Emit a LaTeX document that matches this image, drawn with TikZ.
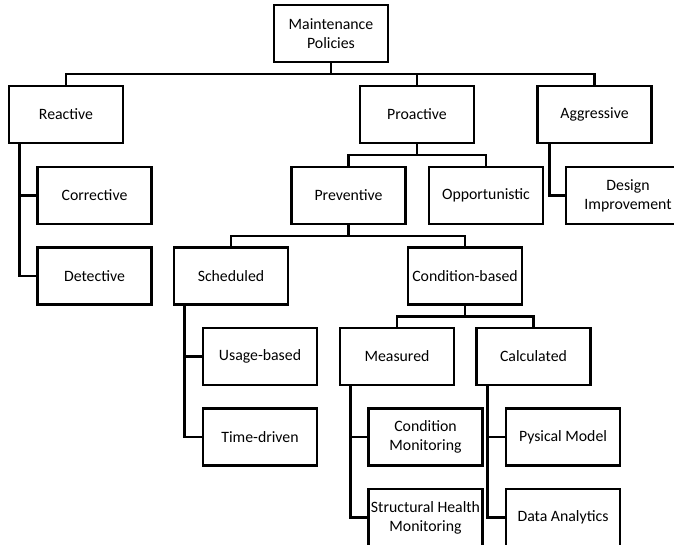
\documentclass[tikz,border=0pt]{standalone}
\usepackage{fontspec}
\setmainfont{Carlito}
\begin{document}
\begin{tikzpicture}[x=1pt,y=-1pt,
  box/.style={draw,line width=2.9pt,minimum width=114pt,minimum height=57pt,inner sep=1pt,align=center,
    font=\fontsize{15.8}{19}\selectfont},
  link/.style={line width=2.9pt}]
\useasboundingbox (0,0) rectangle (674,545);
\clip (0,0) rectangle (674,545);
% nodes
\node[box] (mp) at (331,33.5) {Maintenance\\Policies};
\node[box] (reactive) at (66,114.5) {Reactive};
\node[box] (proactive) at (417,114.5) {Proactive};
\node[box] (aggressive) at (594.5,114.5) {Aggressive};
\node[box] (corrective) at (94.5,195.5) {Corrective};
\node[box] (detective) at (94.5,276) {Detective};
\node[box] (preventive) at (348.5,195.5) {Preventive};
\node[box] (opportunistic) at (486,195.5) {Opportunistic};
\node[box,minimum width=124pt] (design) at (628,195.5) {Design\\Improvement};
\node[box] (scheduled) at (231,276) {Scheduled};
\node[box] (condbased) at (465,276) {Condition-based};
\node[box] (usage) at (260,356.5) {Usage-based};
\node[box] (timedriven) at (260,437) {Time-driven};
\node[box] (measured) at (397,356.5) {Measured};
\node[box] (calculated) at (533.5,356.5) {Calculated};
\node[box] (condmon) at (425.5,437) {Condition\\Monitoring};
\node[box] (physical) at (563,437) {Pysical Model};
\node[box] (shm) at (425.5,517.5) {Structural Health\\Monitoring};
\node[box] (data) at (563,517.5) {Data Analytics};
% top level bar
\coordinate (b1) at (331,74);
\draw[link] (mp.south) -- (b1);
\draw[link] (reactive.north) |- (b1) -| (aggressive.north);
\draw[link] (b1) -| (proactive.north);
% proactive bar
\coordinate (b2) at (417,155);
\draw[link] (proactive.south) -- (b2);
\draw[link] (preventive.north) |- (b2) -| (opportunistic.north);
% preventive bar
\coordinate (b3) at (348.5,236);
\draw[link] (preventive.south) -- (b3);
\draw[link] (scheduled.north) |- (b3) -| (condbased.north);
% condition-based bar
\coordinate (b4) at (465,316.5);
\draw[link] (condbased.south) -- (b4);
\draw[link] (measured.north) |- (b4) -| (calculated.north);
% side branches
\coordinate (rl) at ([xshift=12pt]reactive.south west);
\draw[link] (rl) |- (detective.west);
\draw[link] (rl |- corrective.west) -- (corrective.west);
\coordinate (al) at ([xshift=13pt]aggressive.south west);
\draw[link] (al) |- (design.west);
\coordinate (sl) at ([xshift=12pt]scheduled.south west);
\draw[link] (sl) |- (timedriven.west);
\draw[link] (sl |- usage.west) -- (usage.west);
\coordinate (ml) at ([xshift=12pt]measured.south west);
\draw[link] (ml) |- (shm.west);
\draw[link] (ml |- condmon.west) -- (condmon.west);
\coordinate (cl) at ([xshift=12pt]calculated.south west);
\draw[link] (cl) |- (data.west);
\draw[link] (cl |- physical.west) -- (physical.west);
\end{tikzpicture}
\end{document}
